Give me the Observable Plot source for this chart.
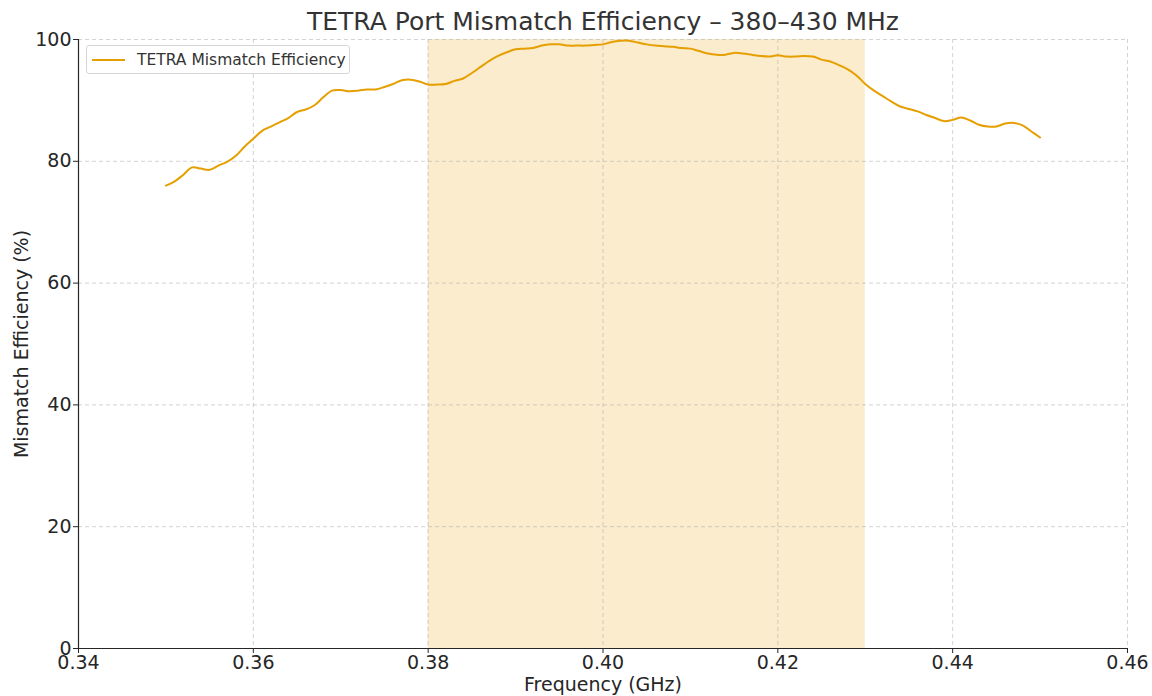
<!DOCTYPE html>
<html>
<head>
<meta charset="utf-8">
<script src="https://cdn.jsdelivr.net/npm/d3@7"></script>
<script src="https://cdn.jsdelivr.net/npm/@observablehq/plot@0.6"></script>
<style>
  html, body { margin: 0; padding: 0; background: #fff; }
  #wrap { position: relative; width: 1152px; height: 696px; font-family: "DejaVu Sans", sans-serif; }
  #legend { position: absolute; left: 86px; top: 45px; width: 264px; height: 29px; box-sizing: border-box;
    border: 1px solid #d6d6d6; border-radius: 3px; background: rgba(255,255,255,0.85);
    display: flex; align-items: center; font-size: 15.5px; color: #333; }
  #legend .sw { width: 33px; height: 2px; background: #E69F00; margin-left: 5px; margin-right: 12px; }
</style>
</head>
<body>
<div id="wrap"></div>
<script>
const title = "TETRA Port Mismatch Efficiency – 380–430 MHz";
const xLabel = "Frequency (GHz)";
const yLabel = "Mismatch Efficiency (%)";
const seriesName = "TETRA Mismatch Efficiency";
const xTicks = [0.34, 0.36, 0.38, 0.40, 0.42, 0.44, 0.46];
const yTicks = [0, 20, 40, 60, 80, 100];
const band = [0.38, 0.43];

const freq = [
  0.350, 0.351, 0.352, 0.353, 0.354, 0.355, 0.356, 0.357, 0.358, 0.359,
  0.360, 0.361, 0.362, 0.363, 0.364, 0.365, 0.366, 0.367, 0.368, 0.369,
  0.370, 0.371, 0.372, 0.373, 0.374, 0.375, 0.376, 0.377, 0.378, 0.379,
  0.380, 0.381, 0.382, 0.383, 0.384, 0.385, 0.386, 0.387, 0.388, 0.389,
  0.390, 0.391, 0.392, 0.393, 0.394, 0.395, 0.396, 0.397, 0.398, 0.399,
  0.400, 0.401, 0.402, 0.403, 0.404, 0.405, 0.406, 0.407, 0.408, 0.409,
  0.410, 0.411, 0.412, 0.413, 0.414, 0.415, 0.416, 0.417, 0.418, 0.419,
  0.420, 0.421, 0.422, 0.423, 0.424, 0.425, 0.426, 0.427, 0.428, 0.429,
  0.430, 0.431, 0.432, 0.433, 0.434, 0.435, 0.436, 0.437, 0.438, 0.439,
  0.440, 0.441, 0.442, 0.443, 0.444, 0.445, 0.446, 0.447, 0.448, 0.449,
  0.450
];
const efficiency = [
  76.0, 76.7, 77.8, 79.0, 78.8, 78.6, 79.3, 79.9, 80.9, 82.4,
  83.7, 85.0, 85.7, 86.4, 87.1, 88.1, 88.5, 89.2, 90.5, 91.6,
  91.7, 91.5, 91.6, 91.8, 91.8, 92.2, 92.7, 93.3, 93.4, 93.1,
  92.6, 92.6, 92.7, 93.2, 93.6, 94.5, 95.5, 96.5, 97.3, 97.9,
  98.4, 98.5, 98.6, 99.0, 99.2, 99.2, 99.0, 99.0, 99.0, 99.1,
  99.2, 99.6, 99.8, 99.8, 99.5, 99.2, 99.0, 98.9, 98.8, 98.6,
  98.5, 98.1, 97.7, 97.5, 97.5, 97.8, 97.7, 97.5, 97.3, 97.2,
  97.4, 97.2, 97.2, 97.3, 97.2, 96.7, 96.4, 95.8, 95.1, 94.1,
  92.7, 91.6, 90.7, 89.8, 89.0, 88.6, 88.2, 87.6, 87.1, 86.6,
  86.8, 87.2, 86.7, 86.0, 85.7, 85.7, 86.2, 86.3, 85.9, 84.9,
  83.9
];

const data = freq.map((f, i) => ({f, e: efficiency[i]}));
const bandData = [{x1: band[0], x2: band[1]}];

const ink = "#262626";
const chart = Plot.plot({
  width: 1152,
  height: 696,
  marginLeft: 78,
  marginRight: 25,
  marginTop: 39,
  marginBottom: 48,
  style: {fontFamily: "DejaVu Sans, sans-serif", background: "white", color: ink},
  x: {domain: [0.34, 0.46]},
  y: {domain: [0, 100]},
  marks: [
    Plot.rect(bandData, {x1: "x1", x2: "x2", y1: yTicks[0], y2: yTicks[yTicks.length - 1], fill: "#E69F00", fillOpacity: 0.2}),
    Plot.gridX(xTicks, {stroke: "#b0b0b0", strokeOpacity: 0.7, strokeDasharray: "4,3", strokeWidth: 0.8}),
    Plot.gridY(yTicks, {stroke: "#b0b0b0", strokeOpacity: 0.7, strokeDasharray: "4,3", strokeWidth: 0.8}),
    Plot.line(data, {x: "f", y: "e", stroke: "#E69F00", strokeWidth: 2, curve: "catmull-rom"}),
    Plot.ruleX([xTicks[0]], {stroke: ink, strokeWidth: 1.2}),
    Plot.ruleY([yTicks[0]], {stroke: ink, strokeWidth: 1.2}),
    Plot.axisX(xTicks, {tickSize: 5, tickPadding: 2, fontSize: 19, tickFormat: d3.format(".2f"),
      label: xLabel, labelAnchor: "center", labelArrow: "none", labelOffset: 42, stroke: ink, fill: ink}),
    Plot.axisY(yTicks, {tickSize: 5, tickPadding: 2, fontSize: 19,
      label: yLabel, labelAnchor: "center", labelArrow: "none", labelOffset: 64, stroke: ink, fill: ink}),
    Plot.text([title], {frameAnchor: "top", dy: -27, fontSize: 25, fill: "#333", text: d => d})
  ]
});
const wrap = document.getElementById("wrap");
wrap.appendChild(chart);
const legend = document.createElement("div");
legend.id = "legend";
legend.innerHTML = `<span class="sw"></span><span>${seriesName}</span>`;
wrap.appendChild(legend);
</script>
</body>
</html>
